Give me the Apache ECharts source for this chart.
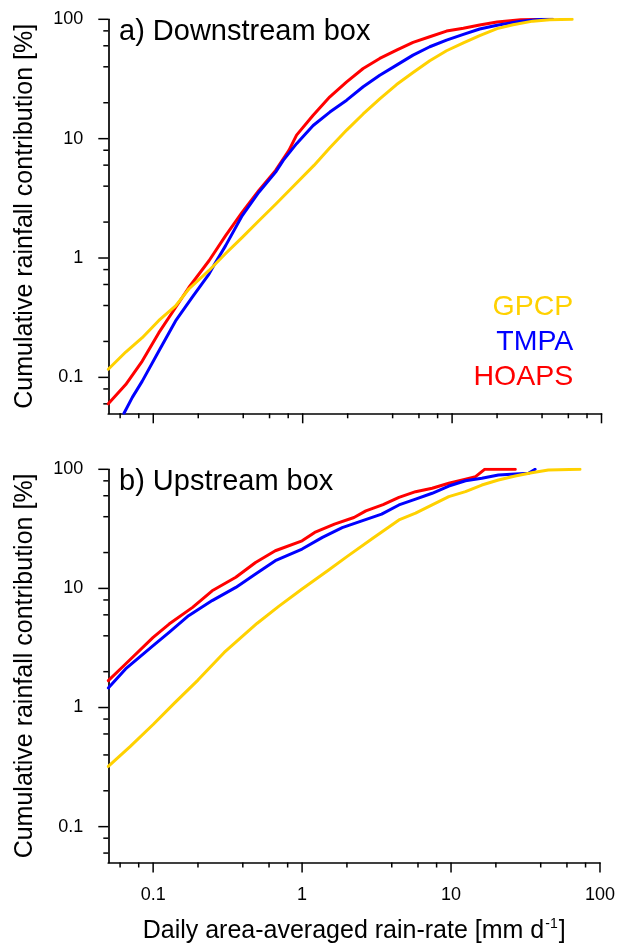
<!DOCTYPE html>
<html>
<head>
<meta charset="utf-8">
<script src="https://cdn.jsdelivr.net/npm/echarts@6/dist/echarts.min.js"></script>
<style>
  html, body { margin: 0; padding: 0; background: #fff; }
  #chart { width: 618px; height: 945px; }
</style>
</head>
<body>
<div id="chart"></div>
<script>
// Products compared in both panels
const seriesNames = ['GPCP', 'TMPA', 'HOAPS'];
const seriesColors = ['#FFD100', '#0000FF', '#FF0000'];
const panelTitles = ['a) Downstream box', 'b) Upstream box'];
const yTitle = 'Cumulative rainfall contribution [%]';

// Axis ticks (both axes are log10, 0.05 .. 100)
const majorTicks = [0.1, 1, 10, 100];
const minorTicks = [0.06, 0.08, 0.2, 0.4, 0.6, 0.8, 2, 4, 6, 8, 20, 40, 60, 80];

// a) Downstream box: rain rate [mm/d] vs cumulative contribution [%]
const downGpcpRate = [0.05, 0.0654, 0.0844, 0.109, 0.141, 0.173, 0.236, 0.305, 0.394, 0.509, 0.659, 0.85, 1.19, 1.52, 1.97, 2.54, 3.28, 4.25, 5.48, 7.09, 9.18, 11.9, 15.3, 20, 25.6, 34.7, 45, 63.6];
const downGpcpPct  = [0.117, 0.163, 0.215, 0.3, 0.397, 0.55, 0.787, 1.09, 1.49, 2.05, 2.82, 3.9, 5.97, 8.4, 11.8, 16.1, 21.5, 28.4, 35.8, 45, 54.5, 63.5, 73, 83.5, 90, 96.5, 99, 100];
const downTmpaRate = [0.0637, 0.0724, 0.0844, 0.109, 0.141, 0.182, 0.236, 0.261, 0.305, 0.394, 0.509, 0.659, 0.741, 0.91, 1.175, 1.52, 1.97, 2.54, 3.28, 4.25, 5.48, 7.09, 9.18, 11.9, 15.3, 20, 28.8, 38, 47];
const downTmpaPct  = [0.05, 0.068, 0.093, 0.166, 0.297, 0.467, 0.734, 0.918, 1.27, 2.27, 3.56, 5.24, 6.57, 9.08, 12.9, 16.7, 21, 27.2, 34, 41.3, 50.1, 58.9, 67, 74.8, 83, 89, 96.5, 99.5, 100];
const downHoapsRate = [0.05, 0.0654, 0.0844, 0.109, 0.141, 0.173, 0.236, 0.305, 0.394, 0.509, 0.659, 0.809, 0.91, 1.175, 1.52, 1.97, 2.54, 3.28, 4.25, 5.48, 7.09, 9.18, 11.9, 15.3, 20, 28.8, 47];
const downHoapsPct  = [0.06, 0.087, 0.137, 0.237, 0.385, 0.566, 0.949, 1.54, 2.42, 3.68, 5.42, 7.98, 10.7, 15.7, 22.4, 29.9, 38.7, 47, 55.2, 64.1, 71.4, 79.7, 84, 89.6, 95, 99, 100];

// b) Upstream box
const upGpcpRate = [0.05, 0.07, 0.1, 0.14, 0.2, 0.3, 0.5, 0.7, 1, 1.5, 2, 3, 4.47, 5.78, 7.47, 9.66, 12.5, 16.1, 20.8, 27, 34.8, 45, 73.4];
const upGpcpPct  = [0.32, 0.47, 0.72, 1.1, 1.7, 2.9, 5.1, 7.1, 9.9, 14.2, 18.5, 26.5, 37.6, 42.8, 50.2, 58.9, 64.9, 73.8, 81.3, 87.9, 93.7, 98.7, 100];
const upTmpaRate = [0.05, 0.0653, 0.1, 0.128, 0.173, 0.249, 0.359, 0.487, 0.661, 1, 1.37, 1.86, 2.52, 3.42, 4.47, 5.78, 7.47, 9.66, 12.5, 16.1, 20.8, 27, 33.1, 36.7];
const upTmpaPct  = [1.46, 2.11, 3.31, 4.28, 5.9, 7.9, 10.2, 13.2, 17.1, 21.4, 26.8, 32.4, 36.9, 42, 50.2, 56.1, 62.9, 72.4, 80.2, 84.1, 89.5, 91.3, 92.6, 100];
const upHoapsRate = [0.05, 0.0653, 0.1, 0.128, 0.184, 0.249, 0.359, 0.487, 0.661, 1, 1.215, 1.65, 2.23, 2.68, 3.5, 4.47, 5.78, 7.47, 9.66, 12.5, 14.6, 16.8, 27];
const upHoapsPct  = [1.68, 2.32, 3.88, 5.02, 6.93, 9.55, 12.4, 16.5, 20.7, 25.1, 29.5, 34.6, 39.4, 44.8, 50.5, 58.2, 64.9, 69.3, 76.4, 82.5, 86.7, 100, 100];

// ---------------------------------------------------------------------------
const FONT = '"Liberation Sans", Arial, Helvetica, sans-serif';
const AXIS_MIN = 0.05;
const AXIS_MAX = 100;
const GRID_LEFT = 108.3;
const GRID_WIDTH = 493.2;
const GRID_HEIGHT = 394;
const GRID_TOPS = [19.3, 469.3];
const MAJOR_LEN = 10;
const MINOR_LEN = 5;

const zip = (xs, ys) => xs.map((x, i) => [x, ys[i]]);

const panelData = [
  [zip(downGpcpRate, downGpcpPct), zip(downTmpaRate, downTmpaPct), zip(downHoapsRate, downHoapsPct)],
  [zip(upGpcpRate, upGpcpPct), zip(upTmpaRate, upTmpaPct), zip(upHoapsRate, upHoapsPct)]
];

// tick list shared by both panels: outward ticks on the bottom and left axes
const tickList = [];
majorTicks.forEach(v => { tickList.push({ v, dim: 'x', len: MAJOR_LEN }); tickList.push({ v, dim: 'y', len: MAJOR_LEN }); });
minorTicks.forEach(v => { tickList.push({ v, dim: 'x', len: MINOR_LEN }); tickList.push({ v, dim: 'y', len: MINOR_LEN }); });

function tickSeries(idx) {
  return {
    type: 'custom',
    xAxisIndex: idx,
    yAxisIndex: idx,
    silent: true,
    clip: false,
    z: 1,
    data: tickList.map(t => t.dim === 'x' ? [t.v, AXIS_MIN] : [AXIS_MIN, t.v]),
    renderItem(params, api) {
      const t = tickList[params.dataIndex];
      const p = api.coord([api.value(0), api.value(1)]);
      const shape = t.dim === 'x'
        ? { x1: p[0], y1: p[1], x2: p[0], y2: p[1] + t.len }
        : { x1: p[0], y1: p[1], x2: p[0] - t.len, y2: p[1] };
      return { type: 'line', shape, style: { stroke: '#000', lineWidth: 1.5 } };
    }
  };
}

const grids = [], xAxes = [], yAxes = [], series = [], graphics = [];

GRID_TOPS.forEach((top, i) => {
  const isBottom = i === GRID_TOPS.length - 1;
  grids.push({ left: GRID_LEFT, top, width: GRID_WIDTH, height: GRID_HEIGHT, containLabel: false });
  xAxes.push({
    type: 'log', logBase: 10, gridIndex: i, min: AXIS_MIN, max: AXIS_MAX,
    axisLine: { show: true, onZero: false, lineStyle: { color: '#000', width: 1.7 } },
    axisTick: { show: false }, minorTick: { show: false }, splitLine: { show: false },
    axisLabel: { show: isBottom, showMinLabel: false, margin: 24, color: '#000', fontSize: 18, fontFamily: FONT },
    name: isBottom ? '{t|Daily area-averaged rain-rate [mm d}{s|-1}{t|]}' : '',
    nameLocation: 'middle', nameGap: 55,
    nameTextStyle: {
      color: '#000', fontFamily: FONT, fontSize: 25,
      rich: {
        t: { fontSize: 25, fontFamily: FONT, color: '#000', lineHeight: 28 },
        s: { fontSize: 14, fontFamily: FONT, color: '#000', verticalAlign: 'top', lineHeight: 28, padding: [0, 1, 0, 1] }
      }
    }
  });
  yAxes.push({
    type: 'log', logBase: 10, gridIndex: i, min: AXIS_MIN, max: AXIS_MAX,
    axisLine: { show: true, onZero: false, lineStyle: { color: '#000', width: 1.7 } },
    axisTick: { show: false }, minorTick: { show: false }, splitLine: { show: false },
    axisLabel: { showMinLabel: false, margin: 25, color: '#000', fontSize: 18, fontFamily: FONT },
    name: yTitle, nameLocation: 'middle', nameGap: 71, nameRotate: 90,
    nameTextStyle: { color: '#000', fontFamily: FONT, fontSize: 25 }
  });

  // HOAPS first, GPCP last so the yellow curve sits on top
  [2, 1, 0].forEach(k => {
    series.push({
      name: seriesNames[k], type: 'line', xAxisIndex: i, yAxisIndex: i,
      data: panelData[i][k], showSymbol: false, smooth: false,
      lineStyle: { color: seriesColors[k], width: 3, join: 'round', cap: 'round' },
      itemStyle: { color: seriesColors[k] },
      z: 3 + (2 - k)
    });
  });
  series.push(tickSeries(i));

  graphics.push({
    type: 'text', x: 119, y: top + 12.4,
    style: { text: panelTitles[i], fontSize: 29, fontFamily: FONT, fill: '#000', align: 'left', verticalAlign: 'middle' }
  });
});

// legend as coloured labels in the lower right of panel a)
seriesNames.forEach((name, k) => {
  graphics.push({
    type: 'text', x: 573.3, y: 306.7 + 35 * k,
    style: { text: name, fontSize: 28.5, fontFamily: FONT, fill: seriesColors[k], align: 'right', verticalAlign: 'middle' }
  });
});

const chart = echarts.init(document.getElementById('chart'), null, { renderer: 'canvas' });
chart.setOption({
  animation: false,
  backgroundColor: '#fff',
  grid: grids,
  xAxis: xAxes,
  yAxis: yAxes,
  series,
  graphic: graphics
});
</script>
</body>
</html>
